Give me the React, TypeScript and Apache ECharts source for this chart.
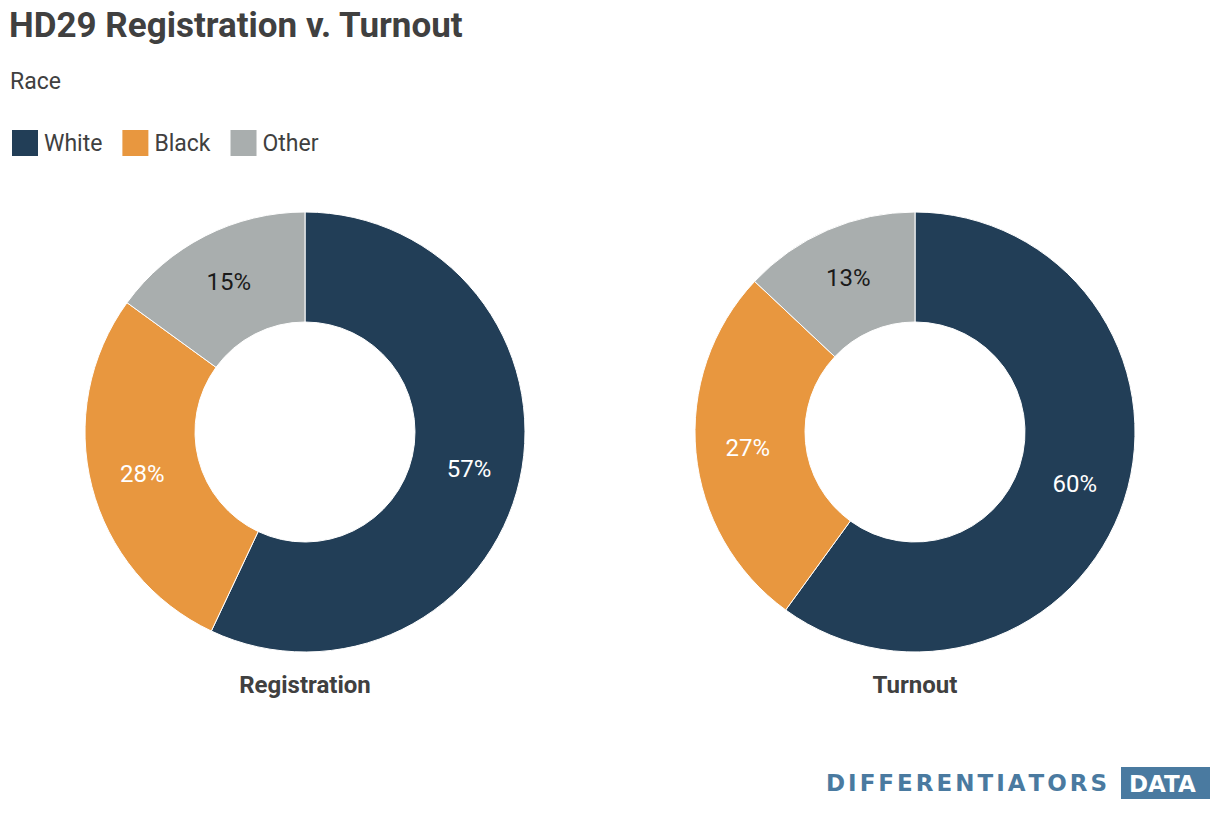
import React, { useEffect, useRef } from "react";
import * as echarts from "echarts";

const categories = ["White", "Black", "Other"];
const registration = [57, 28, 15];
const turnout = [60, 27, 13];
const chartNames = ["Registration", "Turnout"];
const colors = ["#223e57", "#e8973f", "#a9aeae"];
const labelColors = ["#ffffff", "#ffffff", "#1a1a1a"];

const FONT = "'Roboto', sans-serif";
const LOGO_WORD = "DIFFERENTIATORS";
const LOGO_FONT = "bold 23px 'DejaVu Sans', sans-serif";

function logoLetters() {
  const canvas = document.createElement("canvas");
  const ctx = canvas.getContext("2d")!;
  ctx.font = LOGO_FONT;
  const letters = LOGO_WORD.split("");
  const widths = letters.map((l) => ctx.measureText(l).width);
  const total = widths.reduce((a, b) => a + b, 0);
  const span = 281;
  const gap = (span - total) / (letters.length - 1);
  let x = 826;
  return letters.map((l, i) => {
    const el = {
      type: "text",
      style: {
        x,
        y: 783,
        text: l,
        font: LOGO_FONT,
        fill: "#4a7aa0",
        verticalAlign: "middle",
        align: "left",
      },
    };
    x += widths[i] + gap;
    return el;
  });
}

export default function App() {
  const ref = useRef<HTMLDivElement>(null);
  useEffect(() => {
    document.body.style.margin = "0";
    const chart = echarts.init(ref.current!, null, { renderer: "svg" });
    const mkData = (vals: number[]) =>
      categories.map((c, i) => ({
        name: c,
        value: vals[i],
        itemStyle: { color: colors[i] },
        label: { color: labelColors[i] },
      }));
    const centers = [305, 915];
    const seriesVals = [registration, turnout];
    chart.setOption({
      animation: false,
      textStyle: { fontFamily: FONT },
      title: [
        {
          text: "HD29 Registration v. Turnout",
          left: 9,
          top: 8,
          padding: 0,
          textStyle: { fontFamily: FONT, fontSize: 35, fontWeight: "bold", color: "#404040" },
        },
        {
          text: "Race",
          left: 10,
          top: 70,
          padding: 0,
          textStyle: { fontFamily: FONT, fontSize: 23, fontWeight: "normal", color: "#404040" },
        },
        ...chartNames.map((n, i) => ({
          text: n,
          left: centers[i],
          top: 673,
          textAlign: "center",
          padding: 0,
          textStyle: { fontFamily: FONT, fontSize: 24, fontWeight: "bold", color: "#404040" },
        })),
      ],
      legend: {
        data: categories,
        left: 10,
        top: 128,
        padding: 0,
        icon: "rect",
        itemWidth: 28,
        itemHeight: 28,
        itemGap: 18,
        textStyle: { fontFamily: FONT, fontSize: 23, color: "#404040", padding: [0, 0, 0, 0] },
        selectedMode: false,
      },
      series: seriesVals.map((vals, i) => ({
        type: "pie",
        name: chartNames[i],
        center: [centers[i], 432],
        radius: [110, 220],
        startAngle: 90,
        clockwise: true,
        avoidLabelOverlap: false,
        label: {
          show: true,
          position: "inside",
          formatter: "{c}%",
          fontFamily: FONT,
          fontSize: 24,
        },
        labelLine: { show: false },
        emphasis: { disabled: true },
        itemStyle: { borderColor: "#ffffff", borderWidth: 1 },
        data: mkData(vals),
      })),
      graphic: [
        ...logoLetters(),
        {
          type: "rect",
          shape: { x: 1121, y: 767, width: 89, height: 32 },
          style: { fill: "#4a7aa0" },
        },
        {
          type: "text",
          style: {
            x: 1129,
            y: 784,
            text: "DATA",
            font: LOGO_FONT,
            fill: "#ffffff",
            verticalAlign: "middle",
            align: "left",
          },
        },
      ],
    });
    return () => chart.dispose();
  }, []);
  return <div ref={ref} style={{ width: 1220, height: 818 }} />;
}
